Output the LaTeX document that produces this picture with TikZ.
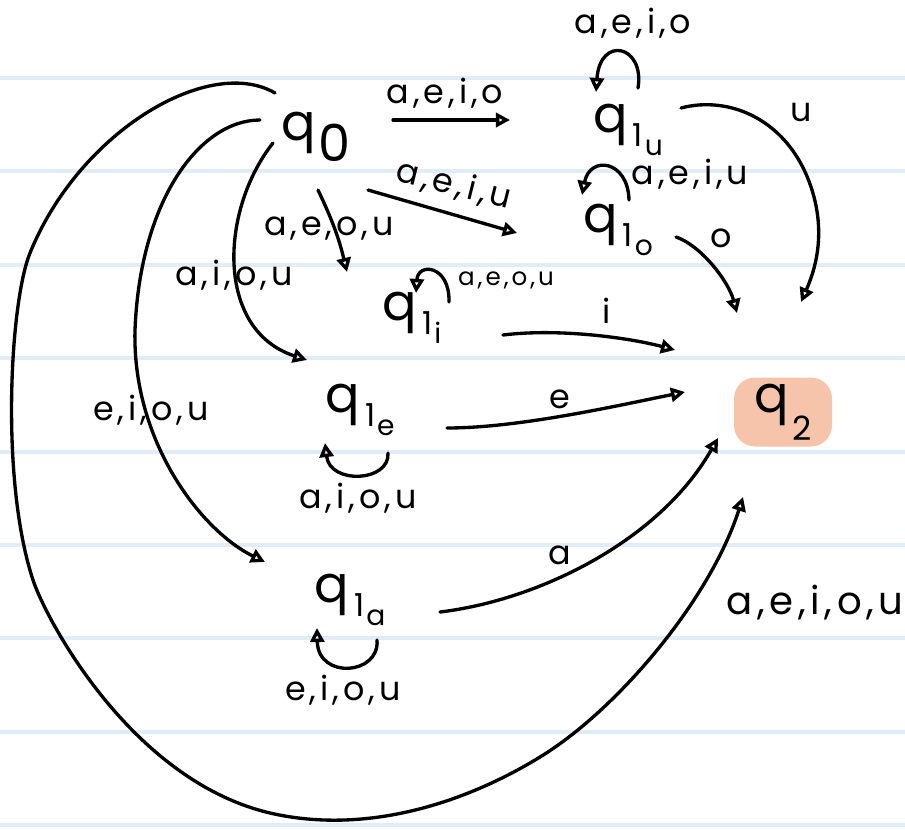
\documentclass[tikz,border=0pt]{standalone}
\usepackage{fontspec}
\setmainfont{Poppins}
\newfontfamily\handfont[LetterSpace=12]{Poppins}
\usetikzlibrary{arrows.meta, positioning, calc}
\definecolor{ruleblue}{RGB}{224,237,247}
\definecolor{finalpeach}{RGB}{246,196,170}

% state name q with stacked subscripts
\newcommand{\qsub}[2]{q\kern3pt\raisebox{-8pt}{\fontsize{18}{18}\selectfont #1}\kern1pt\raisebox{-13pt}{\fontsize{16}{16}\selectfont #2}}

\tikzset{
  state/.style={inner sep=0pt, font=\fontsize{29}{32}\selectfont},
  lbl/.style={inner sep=0pt, font=\handfont\fontsize{19}{21}\selectfont},
  trans/.style={line width=1.9pt, line cap=round, -{Triangle[open, length=8pt, width=8pt]}},
}

\begin{document}
\begin{tikzpicture}[x=0.02cm, y=-0.02cm]
  \useasboundingbox (0,0) rectangle (905,829);
  % lined paper
  \fill[white] (0,0) rectangle (905,829);
  \foreach \ry in {78,171.4,...,830}
    \draw[ruleblue, line width=2.2pt] (0,\ry) -- (905,\ry);

  % states
  \node[state] (q0) at (316,137) {q\kern2pt\raisebox{-12pt}{0}};
  \node[state] (q1u) at (628,130) {\qsub{1}{u}};
  \node[state] (q1o) at (618,230) {\qsub{1}{o}};
  \node[state] (q1i) at (412,318) {\qsub{1}{i}};
  \node[state] (q1e) at (360,410) {\qsub{1}{e}};
  \node[state] (q1a) at (350,600) {\qsub{1}{a}};
  \node[state, fill=finalpeach, rounded corners=12pt, minimum width=1.96cm, minimum height=1.38cm] (q2) at (783,412)
    {q\kern2pt\raisebox{-16pt}{\fontsize{19}{19}\selectfont 2}};

  % out of q0
  \draw[trans] ($(q0)+(77,-17)$) -- ($(q1u)+(-118,-10)$);
  \draw[trans] ($(q0)+(52,53)$) -- ($(q1o)+(-101,3)$);
  \draw[trans] ($(q0)+(2,53)$) to[bend left=6] ($(q1i)+(-65,-46)$);
  \draw[trans] ($(q0)+(-43,6)$) .. controls (220,210) and (215,330) .. ($(q1e)+(-53,-50)$);
  \draw[trans] ($(q0)+(-56,-17)$) .. controls (200,120) and (140,200) .. (135,330)
    .. controls (132,440) and (200,530) .. ($(q1a)+(-85,-38)$);
  \draw[trans] ($(q0)+(-41,-44)$) .. controls (210,55) and (80,130) .. (30,253)
    .. controls (10,302) and (0,480) .. (33,580)
    .. controls (45,617) and (130,780) .. (270,813)
    .. controls (370,836) and (470,800) .. (540,757)
    .. controls (617,710) and (710,600) .. ($(q2)+(-40,85)$);

  % self loops
  \draw[trans] ($(q1u)+(10,-42)$) .. controls (645,45) and (600,35) .. ($(q1u)+(-32,-38)$);
  \draw[trans] ($(q1o)+(11,-30)$) .. controls (628,160) and (590,155) .. ($(q1o)+(-36,-35)$);
  \draw[trans] ($(q1i)+(37,-16)$) .. controls (450,265) and (418,262) .. ($(q1i)+(4,-25)$);
  \draw[trans] ($(q1e)+(28,43)$) .. controls (390,482) and (330,485) .. ($(q1e)+(-35,33)$);
  \draw[trans] ($(q1a)+(27,40)$) .. controls (380,675) and (318,680) .. ($(q1a)+(-33,28)$);

  % into q2
  \draw[trans] ($(q1u)+(53,-22)$) .. controls (730,95) and (790,120) .. (812,190)
    .. controls (826,235) and (815,270) .. ($(q2)+(18,-110)$);
  \draw[trans] ($(q1o)+(58,7)$) .. controls (700,245) and (728,280) .. ($(q2)+(-46,-99)$);
  \draw[trans] ($(q1i)+(91,17)$) .. controls (560,328) and (630,338) .. ($(q2)+(-108,-62)$);
  \draw[trans] ($(q1e)+(87,18)$) .. controls (520,428) and (620,405) .. ($(q2)+(-98,-20)$);
  \draw[trans] ($(q1a)+(90,12)$) .. controls (540,600) and (660,540) .. ($(q2)+(-65,26)$);

  % labels
  \node[lbl] (l0u) at (445,93) {a,e,i,o};
  \node[lbl, rotate=-14] (l0o) at (454,185) {a,e,i,u};
  \node[lbl] (l0i) at (329,229) {a,e,o,u};
  \node[lbl] (l0e) at (234,275) {a,i,o,u};
  \node[lbl] (l0a) at (151,410) {e,i,o,u};
  \node[lbl, font=\handfont\fontsize{22}{24}\selectfont] (l02) at (815,603) {a,e,i,o,u};
  \node[lbl] (luu) at (633,23) {a,e,i,o};
  \node[lbl] (lu2) at (801,112) {u};
  \node[lbl] (loo) at (690,174) {a,e,i,u};
  \node[lbl] (lo2) at (721,238) {o};
  \node[lbl, font=\handfont\fontsize{14}{16}\selectfont] (lii) at (506,280) {a,e,o,u};
  \node[lbl] (li2) at (607,311) {i};
  \node[lbl] (lee) at (358,498) {a,i,o,u};
  \node[lbl] (le2) at (560,399) {e};
  \node[lbl] (laa) at (343,690) {e,i,o,u};
  \node[lbl] (la2) at (560,555) {a};
\end{tikzpicture}
\end{document}
